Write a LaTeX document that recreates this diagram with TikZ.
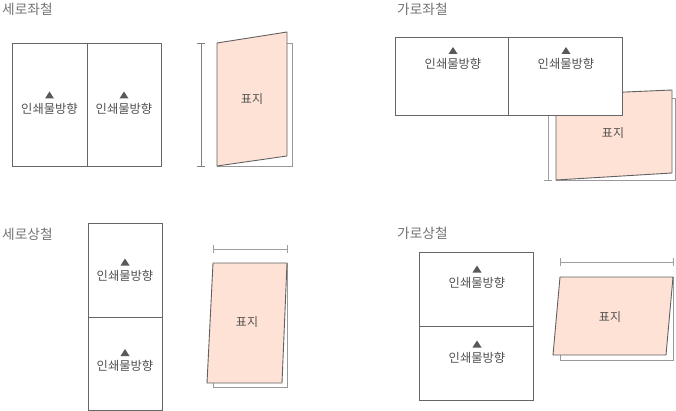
\documentclass[tikz,border=0pt]{standalone}
\usepackage{fontspec}
\setmainfont{Noto Sans CJK KR}
\begin{document}
\begin{tikzpicture}[x=1pt,y=-1pt,
  page/.style={draw=black!60,line width=0.9pt,fill=white},
  back/.style={draw=black!40,line width=0.9pt,fill=white},
  cover/.style={draw=black!62,line width=0.9pt,fill=coverpink,line join=round},
  dimline/.style={draw=black!38,line width=0.9pt},
  mk/.style={fill=black!65},
  lab/.style={text=black!68,font=\fontsize{12.3pt}{13pt}\selectfont,inner sep=0pt},
  ttl/.style={text=black!55,font=\fontsize{13.7pt}{15pt}\selectfont,inner sep=0pt,anchor=west},
  cov/.style={text=black!68,font=\fontsize{12pt}{13pt}\selectfont,inner sep=0pt}]
\definecolor{coverpink}{HTML}{FFE2D6}
\useasboundingbox (0,0) rectangle (676,411);
\newcommand\tri[2]{\fill[mk] (#1-4.5,#2-10) -- (#1+4.5,#2-10) -- (#1,#2-17) -- cycle;}

% ---- panel 1: 세로좌철
\node[ttl] (t1) at (2,9.5) {세로좌철};
\draw[page] (12,43) rectangle (87,166);
\draw[page] (87,43) rectangle (161,166);
\node[lab] (l1a) at (49.5,108.5) {인쇄물방향};
\tri{49.5}{108.5}
\node[lab] (l1b) at (124,108.5) {인쇄물방향};
\tri{124}{108.5}
\draw[back] (217,43) rectangle (292,166);
\draw[cover] (217,43) -- (287,32) -- (287,156) -- (217,166) -- cycle;
\node[cov] (c1) at (252,99.5) {표지};
\draw[dimline,draw=black!50] (201,43) -- (201,166) (197,43) -- (205,43) (197,166) -- (205,166);

% ---- panel 2: 가로좌철
\node[ttl] (t2) at (397,9.5) {가로좌철};
\draw[back] (556,98) rectangle (675,180);
\draw[cover] (556,95) -- (672,90) -- (672,173) -- (556,180) -- cycle;
\node[cov] (c2) at (613,133) {표지};
\draw[dimline] (548,115) -- (548,180) (544,180) -- (552,180);
\draw[page] (395,37) rectangle (508,115);
\draw[page] (508,37) rectangle (622,115);
\node[lab] (l2a) at (453,64) {인쇄물방향};
\tri{453}{64}
\node[lab] (l2b) at (566,64) {인쇄물방향};
\tri{566}{64}

% ---- panel 3: 세로상철
\node[ttl] (t3) at (2,234.5) {세로상철};
\draw[page] (88,223) rectangle (162,317);
\draw[page] (88,317) rectangle (162,410);
\node[lab] (l3a) at (125,275.5) {인쇄물방향};
\tri{125}{275.5}
\node[lab] (l3b) at (125,366) {인쇄물방향};
\tri{125}{366}
\draw[back] (213,263) rectangle (287,387);
\draw[cover] (213,263) -- (287,263) -- (282,383) -- (207,383) -- cycle;
\node[cov] (c3) at (247,322) {표지};
\draw[dimline] (213,249) -- (287,249) (213,245) -- (213,253) (287,245) -- (287,253);

% ---- panel 4: 가로상철
\node[ttl] (t4) at (397,233.5) {가로상철};
\draw[page] (419,252) rectangle (533,326);
\draw[page] (419,326) rectangle (533,400);
\node[lab] (l4a) at (477,282.5) {인쇄물방향};
\tri{477}{282.5}
\node[lab] (l4b) at (477,357.5) {인쇄물방향};
\tri{477}{357.5}
\draw[back] (560,277) rectangle (673,360);
\draw[cover] (560,277) -- (673,277) -- (666,355) -- (553,355) -- cycle;
\node[cov] (c4) at (610,317) {표지};
\draw[dimline] (560,262) -- (673,262) (560,258) -- (560,266) (673,258) -- (673,266);
\end{tikzpicture}
\end{document}
